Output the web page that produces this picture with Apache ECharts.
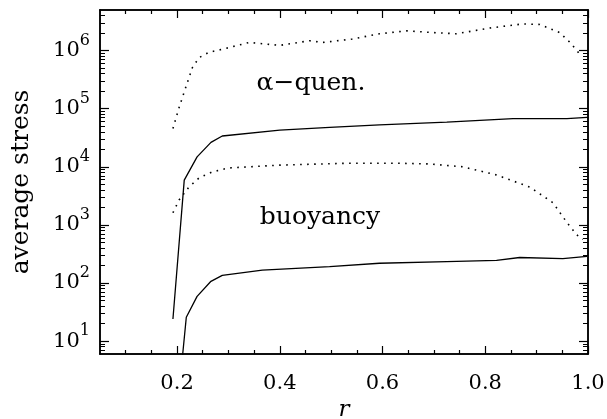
<!DOCTYPE html>
<html>
<head>
<meta charset="utf-8">
<script src="https://cdn.jsdelivr.net/npm/echarts@6/dist/echarts.min.js"></script>
<style>
  html, body { margin: 0; padding: 0; background: #fff; }
  #chart { width: 607px; height: 419px; }
</style>
</head>
<body>
<div id="chart"></div>
<script>
// alpha-quenched run: dotted = upper curve, solid = lower curve
const alphaDotR = [0.192, 0.204, 0.217, 0.230, 0.243, 0.262, 0.30, 0.34, 0.40, 0.458, 0.483, 0.541, 0.594, 0.647, 0.70, 0.744, 0.809, 0.873, 0.906, 0.945, 0.965, 0.985]
const alphaDotV = [45700, 105000, 234000, 513000, 759000, 933000, 1.12e6, 1.38e6, 1.23e6, 1.48e6, 1.38e6, 1.58e6, 1.95e6, 2.19e6, 2.04e6, 1.95e6, 2.45e6, 2.88e6, 2.82e6, 2.04e6, 1.38e6, 850000]
const alphaSolR = [0.192, 0.214, 0.239, 0.266, 0.288, 0.40, 0.497, 0.594, 0.725, 0.854, 0.959, 0.998]
const alphaSolV = [24, 5900, 14800, 26300, 33900, 42700, 47900, 52500, 58900, 67600, 67600, 70800]

// buoyancy run
const buoyDotR = [0.192, 0.204, 0.223, 0.243, 0.268, 0.30, 0.40, 0.53, 0.633, 0.692, 0.756, 0.822, 0.887, 0.932, 0.959, 0.978, 0.99]
const buoyDotV = [1620, 2690, 4470, 6460, 8130, 9550, 10700, 11500, 11500, 11200, 10000, 7240, 4470, 2400, 1100, 676, 562]
const buoySolR = [0.208, 0.218, 0.239, 0.266, 0.288, 0.366, 0.497, 0.594, 0.725, 0.822, 0.867, 0.951, 0.998]
const buoySolV = [3.2, 25.7, 58.9, 107, 135, 166, 191, 219, 234, 245, 275, 263, 288]

// ticks
const rLabels = [0.2, 0.4, 0.6, 0.8, 1.0]
const rMinor = [0.1, 0.15, 0.25, 0.3, 0.35, 0.45, 0.5, 0.55, 0.65, 0.7, 0.75, 0.85, 0.9, 0.95]
const stressDecades = [10, 100, 1000, 1e4, 1e5, 1e6]
const stressMinor = []
for (let d = 1; d <= 1e6; d *= 10) {
  for (let m = 2; m <= 9; m++) {
    const v = m * d
    if (v > 6 && v < 5e6) stressMinor.push(v)
  }
}

const notes = [
  { text: 'α−quen.', x: 311, y: 83 },
  { text: 'buoyancy', x: 320, y: 217 },
]

const FONT = 'DejaVu Serif'
const rMin = 0.05, rMax = 1.0
const sMin = 6, sMax = 5e6

const zip = (xs, ys) => xs.map((x, i) => [x, ys[i]])

const chart = echarts.init(document.getElementById('chart'), null, { renderer: 'canvas' })

// both grids share one box; grid 1 only carries the minor ticks
const gridBox = { left: 100, right: 19, top: 10, bottom: 65, outerBoundsMode: 'none' }
const line = { show: true, onZero: false, lineStyle: { color: '#000', width: 1.5 } }
const ghostLabel = vals => ({ show: true, customValues: vals, color: 'rgba(0,0,0,0)', fontSize: 1, formatter: () => '.' })

const xMajor = (pos, labels) => ({
  type: 'value', gridIndex: 0, position: pos, min: rMin, max: rMax,
  axisLine: line,
  axisTick: { show: true, inside: true, length: 8, customValues: rLabels, lineStyle: { color: '#000', width: 1.2 } },
  axisLabel: labels ? {
    show: true, customValues: rLabels, margin: 19,
    color: '#000', fontFamily: FONT, fontSize: 21,
    formatter: v => v.toFixed(1),
  } : ghostLabel(rLabels),
  splitLine: { show: false },
  name: labels ? 'r' : '',
  nameLocation: 'middle', nameGap: 38,
  nameTextStyle: { color: '#000', fontFamily: FONT, fontStyle: 'italic', fontSize: 23 },
})
const xMinorAxis = pos => ({
  type: 'value', gridIndex: 1, position: pos, min: rMin, max: rMax,
  axisLine: line,
  axisTick: { show: true, inside: true, length: 4, customValues: rMinor, lineStyle: { color: '#000', width: 1.2 } },
  axisLabel: ghostLabel(rMinor),
  splitLine: { show: false },
})
const yMajor = (pos, labels) => ({
  type: 'log', gridIndex: 0, position: pos, min: sMin, max: sMax,
  axisLine: line,
  axisTick: { show: true, inside: true, length: 9, customValues: stressDecades, lineStyle: { color: '#000', width: 1.2 } },
  axisLabel: labels ? {
    show: true, customValues: stressDecades, margin: 10,
    color: '#000', fontFamily: FONT,
    formatter: v => '{b|10}{s|' + Math.round(Math.log10(v)) + '}',
    rich: {
      b: { fontFamily: FONT, fontSize: 21, color: '#000' },
      s: { fontFamily: FONT, fontSize: 16, color: '#000', padding: [0, 0, 20, 0] },
    },
  } : ghostLabel(stressDecades),
  splitLine: { show: false },
  name: labels ? 'average stress' : '',
  nameLocation: 'middle', nameGap: 66,
  nameTextStyle: { color: '#000', fontFamily: FONT, fontSize: 25 },
})
const yMinorAxis = pos => ({
  type: 'log', gridIndex: 1, position: pos, min: sMin, max: sMax,
  axisLine: line,
  axisTick: { show: true, inside: true, length: 5, customValues: stressMinor, lineStyle: { color: '#000', width: 1 } },
  axisLabel: ghostLabel(stressMinor),
  splitLine: { show: false },
})

const series = [
  { data: zip(alphaDotR, alphaDotV), dotted: true },
  { data: zip(alphaSolR, alphaSolV), dotted: false },
  { data: zip(buoyDotR, buoyDotV), dotted: true },
  { data: zip(buoySolR, buoySolV), dotted: false },
].map(s => ({
  type: 'line',
  xAxisIndex: 0,
  yAxisIndex: 0,
  data: s.data,
  symbol: 'none',
  showSymbol: false,
  clip: true,
  silent: true,
  lineStyle: s.dotted
    ? { color: '#000', width: 1.6, type: [1.6, 5.4] }
    : { color: '#000', width: 1.3 },
}))

chart.setOption({
  animation: false,
  backgroundColor: '#fff',
  grid: [
    Object.assign({}, gridBox),
    Object.assign({}, gridBox),
  ],
  xAxis: [xMajor('bottom', true), xMajor('top', false), xMinorAxis('bottom'), xMinorAxis('top')],
  yAxis: [yMajor('left', true), yMajor('right', false), yMinorAxis('left'), yMinorAxis('right')],
  graphic: notes.map(n => ({
    type: 'text',
    x: n.x, y: n.y,
    style: {
      text: n.text, fill: '#000', font: '25px "' + FONT + '"',
      textAlign: 'center', textVerticalAlign: 'middle',
    },
  })),
  series,
})
</script>
</body>
</html>
